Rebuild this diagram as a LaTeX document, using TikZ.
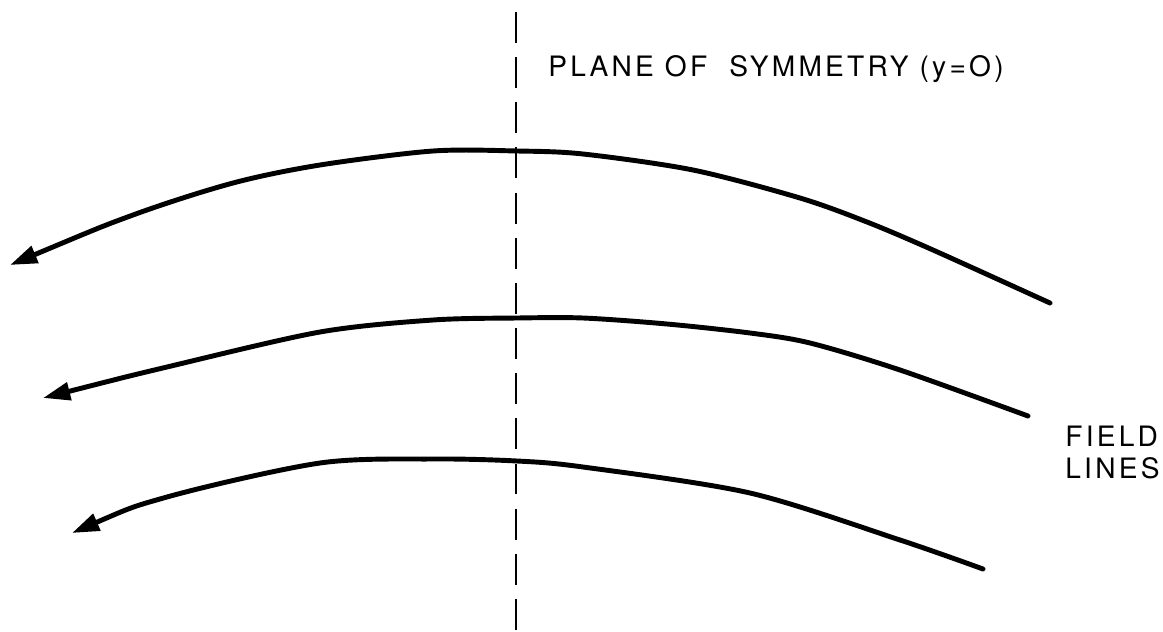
\documentclass[tikz,border=0pt]{standalone}
\usepackage{fontspec}
\usetikzlibrary{arrows.meta}
\newfontfamily\lettering[LetterSpace=11.5]{TeX Gyre Heros}

\begin{document}
\begin{tikzpicture}[
    x = 0.02cm,
    y = -0.02cm,
    fieldline/.style = {
        line width = 2.8pt,
        line cap   = round,
        {Triangle[length=15.5pt, width=10pt]}-
    },
    symline/.style = {
        line width   = 1pt,
        dash pattern = on 17.6pt off 8.1pt
    },
    rotulo/.style = {
        font       = \lettering\fontsize{16}{18}\selectfont,
        inner sep  = 0pt
    }
]

\useasboundingbox (0,0) rectangle (1163,632);

% ================================================================
%  PLANO DE SIMETRIA (linea discontinua vertical, x = 516)
% ================================================================

\draw[symline] (516,12) -- (516,632);

% ================================================================
%  LINEAS DE CAMPO (flecha en el extremo izquierdo)
% ================================================================

% Linea 1 (superior)
\draw[fieldline] plot[smooth, tension=0.5] coordinates {
    (10,265) (133,215) (233,183) (320,165) (433,151) (517,151)
    (583,154) (693,170) (800,198) (867,222) (933,250) (1050,303)};

% Linea 2 (central)
\draw[fieldline] plot[smooth, tension=0.5] coordinates {
    (43,398) (167,367) (320,332) (433,320) (517,318) (583,318)
    (667,324) (750,333) (810,343) (900,370) (1028,416)};

% Linea 3 (inferior)
\draw[fieldline] plot[smooth, tension=0.5] coordinates {
    (72,533) (167,497) (320,463) (433,459) (517,461) (583,467)
    (750,493) (900,540) (983,569)};

% ================================================================
%  ETIQUETAS
% ================================================================

\node[rotulo, anchor=base west] (planelab) at (548,76)
    {PLANE OF\ \ SYMMETRY (y=O)};

\node[rotulo, anchor=base west] (fieldlab) at (1065,446) {FIELD};
\node[rotulo, anchor=base west] (lineslab) at (1065,478) {LINES};

\end{tikzpicture}
\end{document}
